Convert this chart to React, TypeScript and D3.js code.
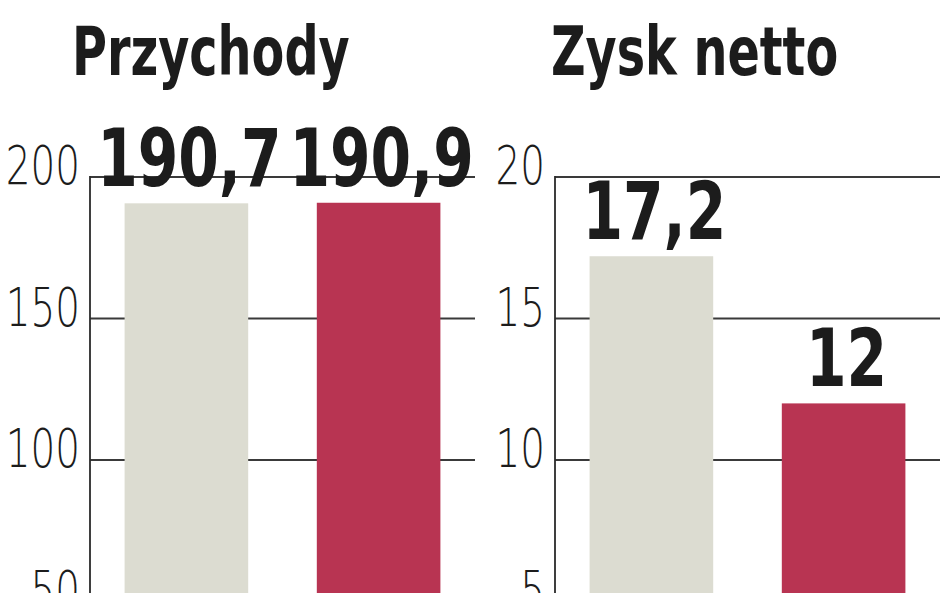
import React, { useEffect, useRef } from 'react';
import * as d3 from 'd3';

const periods = ['poprzedni', 'bieżący'];
const revenue = [190.7, 190.9];
const netProfit = [17.2, 12];
const revenueTicks = [50, 100, 150, 200];
const profitTicks = [5, 10, 15, 20];
const barColors = ['#dcdcd1', '#b83452'];

interface Panel {
  title: string;
  values: number[];
  ticks: number[];
  max: number;
  x0: number;
  titleX: number;
}

const panels: Panel[] = [
  { title: 'Przychody', values: revenue, ticks: revenueTicks, max: 200, x0: 90, titleX: 72 },
  { title: 'Zysk netto', values: netProfit, ticks: profitTicks, max: 20, x0: 555, titleX: 551 },
];

const fmt = (v: number) => String(v).replace('.', ',');

// condensed look: fonts are horizontally squeezed
type G = d3.Selection<SVGGElement, unknown, null, undefined>;
const addText = (
  g: G, x: number, y: number, str: string,
  opts: { size: number; weight: string | number; anchor: string; sx: number; family: string }
) => {
  g.append('text')
    .attr('transform', `translate(${x},${y}) scale(${opts.sx},1)`)
    .attr('text-anchor', opts.anchor)
    .attr('font-family', opts.family)
    .attr('font-weight', opts.weight)
    .attr('font-size', opts.size)
    .attr('fill', '#1c1c1c')
    .text(str);
};

const App: React.FC = () => {
  const svgRef = useRef<SVGSVGElement>(null);

  useEffect(() => {
    if (!svgRef.current) return;
    const root = d3.select(svgRef.current);
    root.selectAll('*').remove();

    const panelWidth = 385;
    const top = 177;
    const zeroY = 743;
    const condensed = '"DejaVu Sans Condensed", "DejaVu Sans", sans-serif';

    panels.forEach(p => {
      const g = root.append('g') as G;

      const x = d3.scaleBand<string>()
        .domain(periods)
        .range([p.x0, p.x0 + panelWidth])
        .paddingInner(0.357)
        .paddingOuter(0.18);

      const y = d3.scaleLinear()
        .domain([0, p.max])
        .range([zeroY, top]);

      // title
      addText(g, p.titleX, 75, p.title, { size: 68, weight: 'bold', anchor: 'start', sx: 0.78, family: condensed });

      // grid lines
      g.selectAll('.grid')
        .data(p.ticks)
        .enter()
        .append('line')
        .attr('x1', p.x0)
        .attr('x2', p.x0 + panelWidth)
        .attr('y1', d => y(d))
        .attr('y2', d => y(d))
        .attr('stroke', '#3a3a3a')
        .attr('stroke-width', 2.2);

      // tick labels
      p.ticks.forEach(t => {
        addText(g, p.x0 - 10, y(t) + 7, String(t), { size: 54, weight: 200, anchor: 'end', sx: 0.72, family: '"DejaVu Sans", sans-serif' });
      });

      // bars
      g.selectAll('.bar')
        .data(p.values)
        .enter()
        .append('rect')
        .attr('x', (_, i) => x(periods[i]) || 0)
        .attr('width', x.bandwidth())
        .attr('y', d => y(d))
        .attr('height', d => zeroY - y(d))
        .attr('fill', (_, i) => barColors[i]);

      // axis line
      g.append('line')
        .attr('x1', p.x0)
        .attr('x2', p.x0)
        .attr('y1', top - 1)
        .attr('y2', 600)
        .attr('stroke', '#2a2a2a')
        .attr('stroke-width', 1.8);

      // value labels
      p.values.forEach((v, i) => {
        const cx = (x(periods[i]) || 0) + x.bandwidth() / 2 + 3;
        addText(g, cx, y(v) - 17, fmt(v), { size: 80, weight: 'bold', anchor: 'middle', sx: 0.81, family: condensed });
      });
    });
  }, []);

  return (
    <div style={{ position: 'absolute', left: 0, top: 0, width: 948, height: 593, background: '#fff' }}>
      <svg ref={svgRef} width={948} height={593} style={{ display: 'block' }}></svg>
    </div>
  );
};

export default App;
